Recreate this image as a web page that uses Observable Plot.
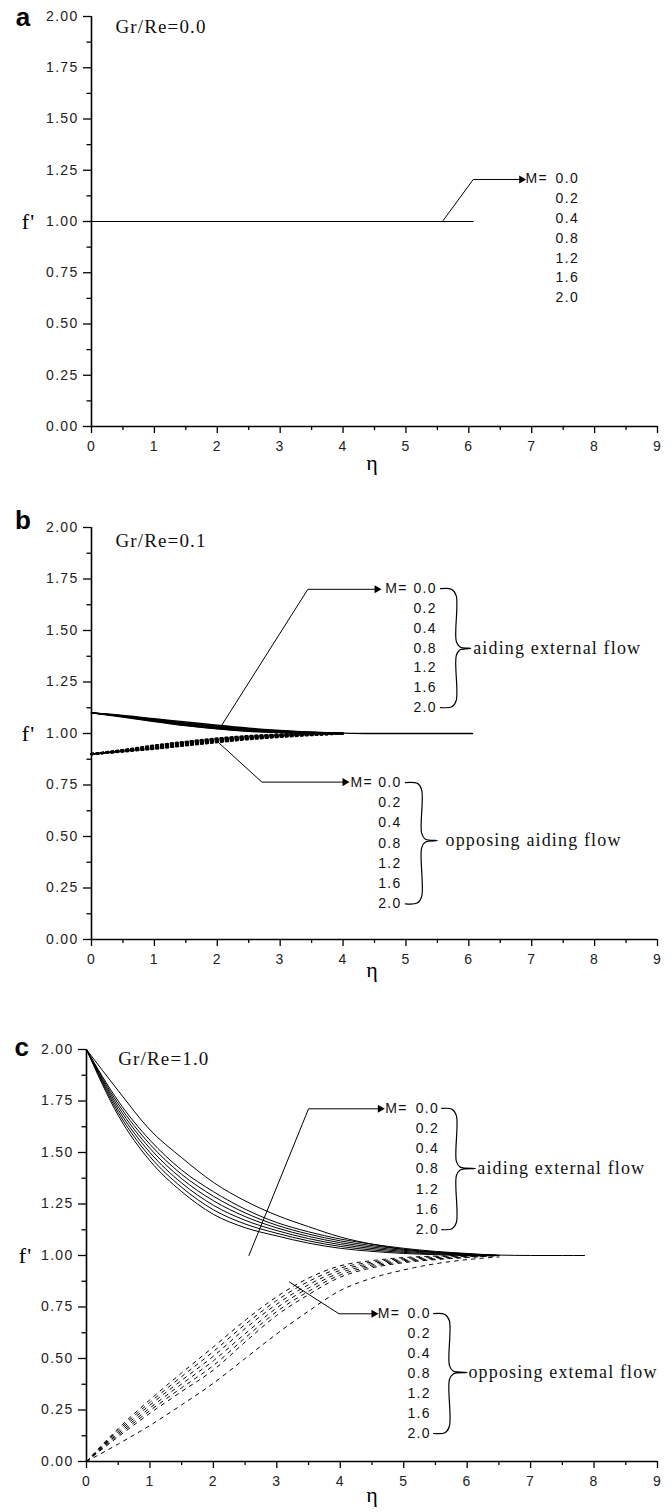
<!DOCTYPE html>
<html><head><meta charset="utf-8">
<script src="https://cdn.jsdelivr.net/npm/d3@7"></script>
<script src="https://cdn.jsdelivr.net/npm/@observablehq/plot@0.6"></script>
<style>
body{margin:0;background:#fff}
#wrap{position:relative;width:672px;height:1512px;overflow:hidden}
.panel{position:absolute;left:0;width:672px}
svg text{letter-spacing:1.3px}
g[font-family^="Liberation Serif"] text{letter-spacing:1.15px}
</style>
</head><body><div id="wrap"></div>
<script>
// ---------- tick values ----------
const etaTicks = [0,1,2,3,4,5,6,7,8,9];
const etaMinor = [0.5,1.5,2.5,3.5,4.5,5.5,6.5,7.5,8.5];
const fTicks = [0,0.25,0.5,0.75,1,1.25,1.5,1.75,2];
const fMinor = [0.125,0.375,0.625,0.875,1.125,1.375,1.625,1.875];
const Mvals = ["0.0","0.2","0.4","0.8","1.2","1.6","2.0"];

// ---------- panel a : Gr/Re = 0.0 ----------
const etaA = [0, 6.07];
const fA = [1.0, 1.0];

// ---------- panel b : Gr/Re = 0.1 ----------
const etaB = [0,0.5,1,1.5,2,2.5,3,3.5,4,4.5,5,5.5,6.06];
const aidingB = [
  [1.10,1.088,1.072,1.056,1.040,1.026,1.015,1.007,1.002,1.0,1.0,1.0,1.0],
  [1.10,1.086,1.069,1.052,1.036,1.023,1.013,1.006,1.0],
  [1.10,1.085,1.067,1.049,1.033,1.021,1.011,1.005,1.0],
  [1.10,1.084,1.065,1.046,1.030,1.018,1.009,1.004,1.0],
  [1.10,1.083,1.063,1.043,1.027,1.015,1.007,1.003,1.0],
  [1.10,1.082,1.060,1.040,1.024,1.012,1.005,1.002,1.0],
  [1.10,1.080,1.058,1.038,1.022,1.010,1.004,1.001,1.0]
];
const opposingB = [
  [0.90,0.912,0.926,0.942,0.958,0.972,0.983,0.992,1.0],
  [0.90,0.914,0.929,0.945,0.961,0.975,0.986,0.994,1.0],
  [0.90,0.915,0.931,0.948,0.964,0.978,0.988,0.995,1.0],
  [0.90,0.916,0.934,0.951,0.967,0.980,0.990,0.997,1.0],
  [0.90,0.917,0.936,0.954,0.970,0.983,0.992,0.998,1.0],
  [0.90,0.918,0.939,0.957,0.973,0.986,0.994,0.999,1.0],
  [0.90,0.920,0.942,0.960,0.976,0.988,0.995,1.0]
];

// ---------- panel c : Gr/Re = 1.0 ----------
const etaC = [0,0.5,1,1.5,2,2.5,3,3.5,4,4.5,5,5.5,6,6.5,7,7.5,7.85];
const aidingC = [
  [2.0,1.80,1.61,1.475,1.355,1.265,1.195,1.14,1.09,1.055,1.03,1.015,1.006,1.002,1.0,1.0,1.0],
  [2.0,1.75,1.56,1.415,1.31,1.225,1.16,1.115,1.08,1.055,1.035,1.02,1.01,1.0],
  [2.0,1.736,1.54,1.394,1.288,1.207,1.147,1.104,1.071,1.048,1.03,1.017,1.008,1.0],
  [2.0,1.722,1.52,1.373,1.266,1.189,1.134,1.093,1.062,1.041,1.025,1.014,1.006,1.0],
  [2.0,1.708,1.50,1.352,1.244,1.171,1.121,1.082,1.053,1.034,1.02,1.01,1.004,1.0],
  [2.0,1.694,1.48,1.331,1.222,1.153,1.108,1.071,1.044,1.027,1.015,1.007,1.002,1.0],
  [2.0,1.68,1.46,1.31,1.20,1.135,1.095,1.06,1.035,1.02,1.01,1.004,1.0,1.0]
];
const opposingC = [
  [0,0.085,0.175,0.275,0.38,0.50,0.62,0.73,0.83,0.89,0.93,0.96,0.98,0.993],
  [0,0.12,0.234,0.34,0.444,0.58,0.71,0.81,0.895,0.94,0.965,0.98,0.99,1.0],
  [0,0.128,0.247,0.358,0.466,0.60,0.728,0.826,0.906,0.947,0.97,0.983,0.992,1.0],
  [0,0.136,0.26,0.376,0.489,0.62,0.746,0.842,0.917,0.954,0.975,0.986,0.994,1.0],
  [0,0.144,0.274,0.394,0.511,0.645,0.764,0.858,0.928,0.961,0.98,0.99,0.996,1.0],
  [0,0.152,0.287,0.412,0.534,0.665,0.782,0.874,0.939,0.968,0.985,0.994,0.998,1.0],
  [0,0.16,0.30,0.43,0.556,0.685,0.80,0.89,0.95,0.975,0.99,0.997,1.0,1.0]
];

// ---------- annotation anchors (data units) ----------
const SANS = "Liberation Sans, Arial, sans-serif";
const SERIF = "Liberation Serif, Times New Roman, serif";

const panels = [
  {
    letter:"a", title:"Gr/Re=0.0", top:0, height:504, mt:16, mb:78, ml:91, mr:15,
    letterPos:[-1.08,1.995], fPos:[-1.0,1.0], etaPos:[4.47,-0.18], titlePos:[0.38,1.95],
    sets:[{eta:etaA, series:[fA], dash:null, width:1.2}],
    notes:[{leader:[[5.58,1.0],[6.07,1.205],[6.87,1.205]], labelEta:6.90, valEta:7.38, rowTop:1.208, rowBot:0.628}]
  },
  {
    letter:"b", title:"Gr/Re=0.1", top:504, height:504, mt:23, mb:69, ml:91, mr:15,
    letterPos:[-1.08,2.034], fPos:[-1.0,1.0], etaPos:[4.47,-0.15], titlePos:[0.38,1.937],
    sets:[
      {eta:etaB, series:aidingB, dash:null, width:1.3},
      {eta:etaB, series:opposingB, dash:"2,3", width:2.2}
    ],
    notes:[
      {leader:[[2.05,1.03],[3.44,1.70],[4.57,1.70]], labelEta:4.67, valEta:5.12, rowTop:1.703, rowBot:1.126,
       brace:{xa:5.55, xs:5.80, xt:6.03, mid:1.413}, text:"aiding external flow", textEta:6.07},
      {leader:[[1.97,0.97],[2.71,0.764],[4.06,0.764]], labelEta:4.12, valEta:4.56, rowTop:0.762, rowBot:0.173,
       brace:{xa:4.99, xs:5.25, xt:5.50, mid:0.48}, text:"opposing aiding flow", textEta:5.63}
    ]
  },
  {
    letter:"c", title:"Gr/Re=1.0", top:1008, height:504, mt:41, mb:51, ml:86, mr:15,
    letterPos:[-1.01,2.01], fPos:[-0.96,1.0], etaPos:[4.51,-0.16], titlePos:[0.50,1.956],
    sets:[
      {eta:etaC, series:aidingC, dash:null, width:1},
      {eta:etaC, series:opposingC, dash:"3.5,5", width:1}
    ],
    notes:[
      {leader:[[2.56,1.0],[3.50,1.712],[4.66,1.712]], labelEta:4.71, valEta:5.19, rowTop:1.714, rowBot:1.126,
       brace:{xa:5.60, xs:5.83, xt:6.13, mid:1.422}, text:"aiding external flow", textEta:6.16},
      {leader:[[3.2,0.871],[3.98,0.717],[4.56,0.717]], labelEta:4.59, valEta:5.06, rowTop:0.718, rowBot:0.136,
       brace:{xa:5.47, xs:5.72, xt:6.0, mid:0.432}, text:"opposing extemal flow", textEta:6.02}
    ]
  }
];

function bracePts(id, b, top, bot) {
  const h = 0.035;
  return [
    [b.xa, top], [b.xs - 0.07, top - 0.004], [b.xs, top - h],
    [b.xs, b.mid + h], [b.xs + 0.06, b.mid + 0.007], [b.xt, b.mid],
    [b.xs + 0.06, b.mid - 0.007], [b.xs, b.mid - h],
    [b.xs, bot + h], [b.xs - 0.07, bot + 0.004], [b.xa, bot]
  ].map(([x, y]) => ({id, x, y}));
}

const wrap = document.getElementById("wrap");
const blank = () => "";

panels.forEach(p => {
  const marks = [];
  // axes
  marks.push(Plot.ruleX([0], {stroke:"#000", strokeWidth:1.6}));
  marks.push(Plot.ruleY([0], {stroke:"#000", strokeWidth:1.6}));
  marks.push(Plot.axisY(fTicks, {tickSize:8, tickPadding:5, tickFormat:d3.format(".2f"), label:null,
    fontSize:14, fontFamily:SANS, strokeWidth:1.3, fill:"#222"}));
  marks.push(Plot.axisY(fMinor, {tickSize:4.5, tickFormat:blank, label:null, strokeWidth:1.3}));
  marks.push(Plot.axisX(etaTicks, {tickSize:7, tickPadding:8, tickFormat:d3.format("d"), label:null,
    fontSize:14, fontFamily:SANS, strokeWidth:1.3, fill:"#222"}));
  marks.push(Plot.axisX(etaMinor, {tickSize:4, tickFormat:blank, label:null, strokeWidth:1.3}));

  // data lines
  p.sets.forEach((s, si) => {
    const rows = [];
    s.series.forEach((arr, i) => arr.forEach((f, j) => rows.push({eta:s.eta[j], f, M:si + "-" + Mvals[i]})));
    marks.push(Plot.line(rows, {x:"eta", y:"f", z:"M", curve:"monotone-x", stroke:"#000",
      strokeWidth:s.width, strokeDasharray:s.dash || undefined}));
  });

  // annotations
  const leaderRows = [], tips = [], labelRows = [], braceRows = [], noteTexts = [];
  p.notes.forEach((n, k) => {
    n.leader.forEach(([x, y]) => leaderRows.push({id:k, x, y}));
    const end = n.leader[n.leader.length - 1];
    tips.push({x:end[0], y:end[1]});
    labelRows.push({x:n.labelEta, y:n.rowTop, t:"M="});
    Mvals.forEach((m, i) => labelRows.push({x:n.valEta, y:n.rowTop - i * (n.rowTop - n.rowBot) / 6, t:m}));
    if (n.brace) {
      braceRows.push(...bracePts(k, n.brace, n.rowTop, n.rowBot));
      noteTexts.push({x:n.textEta, y:n.brace.mid, t:n.text});
    }
  });
  marks.push(Plot.line(leaderRows, {x:"x", y:"y", z:"id", stroke:"#000", strokeWidth:1}));
  marks.push(Plot.dot(tips, {x:"x", y:"y", symbol:"triangle", rotate:90, r:3, fill:"#000", stroke:null, dx:-2}));
  marks.push(Plot.text(labelRows, {x:"x", y:"y", text:"t", textAnchor:"start", fontSize:14, fontFamily:SANS, fill:"#111"}));
  if (braceRows.length) {
    marks.push(Plot.line(braceRows, {x:"x", y:"y", z:"id", curve:"catmull-rom", stroke:"#000", strokeWidth:1.2}));
    marks.push(Plot.text(noteTexts, {x:"x", y:"y", text:"t", textAnchor:"start", fontSize:18, fontFamily:SERIF, fill:"#111"}));
  }

  // titles & labels
  marks.push(Plot.text([p.title], {x:p.titlePos[0], y:p.titlePos[1], text:d => d, textAnchor:"start", fontSize:19, fontFamily:SERIF, fill:"#111"}));
  marks.push(Plot.text([p.letter], {x:p.letterPos[0], y:p.letterPos[1], text:d => d, textAnchor:"middle", fontSize:26, fontWeight:"bold", fontFamily:SANS, fill:"#000"}));
  marks.push(Plot.text(["f'"], {x:p.fPos[0], y:p.fPos[1], text:d => d, textAnchor:"middle", fontSize:22, fontFamily:SERIF, fill:"#000"}));
  marks.push(Plot.text(["η"], {x:p.etaPos[0], y:p.etaPos[1], text:d => d, textAnchor:"middle", fontSize:22, fontFamily:SERIF, fill:"#000"}));

  const chart = Plot.plot({
    width:672, height:p.height,
    marginTop:p.mt, marginBottom:p.mb, marginLeft:p.ml, marginRight:p.mr,
    x:{domain:[0,9], label:null},
    y:{domain:[0,2], label:null},
    style:{background:"#fff", color:"#000", fontFamily:SANS, overflow:"visible"},
    marks
  });
  const div = document.createElement("div");
  div.className = "panel";
  div.style.top = p.top + "px";
  div.appendChild(chart);
  wrap.appendChild(div);
});
</script>
</body></html>
